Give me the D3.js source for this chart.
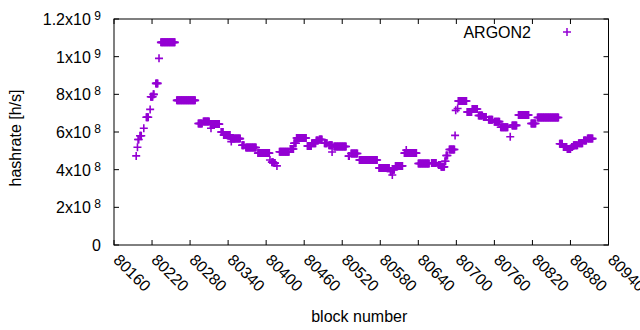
<!DOCTYPE html>
<html>
<head>
<meta charset="utf-8">
<script src="https://cdn.jsdelivr.net/npm/d3@7"></script>
<style>
  body { margin: 0; background: #fff; }
  svg { display: block; font-family: "Liberation Sans", Arial, sans-serif; }
  .frame { fill: none; stroke: #000; stroke-width: 1; }
  .tick { stroke: #000; stroke-width: 1; }
  text { fill: #000; font-size: 16px; }
</style>
</head>
<body>
<script>
// hashrate runs: first block, last block, value [h/s]
var runStart = [80195, 80197, 80198, 80201, 80207, 80211, 80217, 80218, 80222, 80226,
                80231, 80234, 80259, 80293, 80301, 80313, 80312, 80329, 80333, 80345,
                80344, 80362, 80368, 80387, 80406, 80409, 80413, 80417, 80421, 80438,
                80444, 80448, 80465, 80472, 80479, 80484, 80492, 80499, 80504, 80507,
                80530, 80534, 80547, 80578, 80596, 80599, 80600, 80604, 80618, 80621,
                80640, 80661, 80672, 80676, 80682, 80684, 80689, 80698, 80699, 80702,
                80703, 80717, 80725, 80735, 80743, 80751, 80760, 80770, 80785, 80788,
                80798, 80818, 80828, 80863, 80869, 80875, 80882, 80885, 80893, 80901,
                80907];
var runEnd   = [80195, 80197, 80199, 80203, 80207, 80214, 80217, 80221, 80223, 80229,
                80231, 80256, 80288, 80299, 80310, 80313, 80326, 80332, 80343, 80345,
                80359, 80365, 80384, 80405, 80406, 80411, 80414, 80417, 80436, 80443,
                80447, 80463, 80471, 80478, 80482, 80488, 80496, 80504, 80504, 80526,
                80531, 80544, 80575, 80594, 80597, 80599, 80602, 80615, 80637, 80621,
                80657, 80668, 80675, 80681, 80683, 80686, 80697, 80698, 80699, 80702,
                80716, 80724, 80733, 80741, 80747, 80757, 80768, 80781, 80785, 80795,
                80814, 80825, 80861, 80867, 80874, 80880, 80883, 80891, 80899, 80905,
                80915];
var runValue = [4.73e8, 5.19e8, 5.6e8, 5.8e8, 6.2e8, 6.78e8, 7.2e8, 7.87e8, 8.0e8, 8.58e8,
                9.91e8, 1.076e9, 7.68e8, 6.45e8, 6.56e8, 6.2e8, 6.42e8, 6.0e8, 5.84e8, 5.49e8,
                5.65e8, 5.3e8, 5.18e8, 4.88e8, 4.51e8, 4.4e8, 4.35e8, 4.2e8, 4.95e8, 5.1e8,
                5.4e8, 5.68e8, 5.26e8, 5.4e8, 5.55e8, 5.6e8, 5.4e8, 5.3e8, 4.94e8, 5.23e8,
                4.72e8, 4.86e8, 4.51e8, 4.09e8, 3.9e8, 3.72e8, 4.0e8, 4.2e8, 4.88e8, 5.04e8,
                4.33e8, 4.35e8, 4.25e8, 4.15e8, 4.45e8, 4.75e8, 5.07e8, 5.82e8, 7.15e8, 7.25e8,
                7.65e8, 7.06e8, 7.22e8, 6.88e8, 6.8e8, 6.65e8, 6.55e8, 6.25e8, 5.75e8, 6.35e8,
                6.9e8, 6.45e8, 6.77e8, 5.38e8, 5.2e8, 5.1e8, 5.2e8, 5.3e8, 5.4e8, 5.55e8,
                5.65e8];

var xTicks = [80160, 80220, 80280, 80340, 80400, 80460, 80520, 80580, 80640, 80700, 80760, 80820, 80880, 80940];
var yTicks = [0, 2e8, 4e8, 6e8, 8e8, 1e9, 1.2e9];
var yTickBase = ["0", "2x10", "4x10", "6x10", "8x10", "1x10", "1.2x10"];
var yTickExp  = ["", "8", "8", "8", "8", "9", "9"];
var seriesName = "ARGON2";

window.onload = drawChart;

function drawChart(){
    var width = 640, height = 330;
    var mLeft = 114, mRight = 608.5, mTop = 19, mBottom = 245;
    var color = "#9400d3";

    // one point per block, expanded from the runs
    var points = [];
    runStart.forEach(function(s, i){
        for (var b = s; b <= runEnd[i]; b++) points.push({block: b, value: runValue[i]});
    });

    var svg = d3.select("body").append("svg")
        .attr("width", width)
        .attr("height", height);

    var x = d3.scaleLinear().domain([80160, 80940]).range([mLeft, mRight]);
    var y = d3.scaleLinear().domain([0, 1.2e9]).range([mBottom, mTop]);

    var tl = 5;
    // ticks, mirrored on all four sides
    var g = svg.append("g");
    xTicks.forEach(function(t){
        g.append("line").attr("class", "tick").attr("x1", x(t)).attr("x2", x(t)).attr("y1", mBottom).attr("y2", mBottom - tl);
        g.append("line").attr("class", "tick").attr("x1", x(t)).attr("x2", x(t)).attr("y1", mTop).attr("y2", mTop + tl);
    });
    yTicks.forEach(function(t){
        g.append("line").attr("class", "tick").attr("x1", mLeft).attr("x2", mLeft + tl).attr("y1", y(t)).attr("y2", y(t));
        g.append("line").attr("class", "tick").attr("x1", mRight).attr("x2", mRight - tl).attr("y1", y(t)).attr("y2", y(t));
    });

    // y tick labels like 8x10^8
    yTicks.forEach(function(t, i){
        var txt = svg.append("text")
            .attr("x", 101)
            .attr("y", y(t) + 6)
            .attr("text-anchor", "end");
        txt.append("tspan").text(yTickBase[i]);
        if (yTickExp[i]) {
            txt.append("tspan").attr("dx", 3.5).attr("dy", -5).style("font-size", "12px").text(yTickExp[i]);
        }
    });

    // rotated x tick labels
    xTicks.forEach(function(t){
        svg.append("text")
            .attr("transform", "translate(" + (x(t) - 1.5) + ",261) rotate(45)")
            .attr("text-anchor", "start")
            .text(t);
    });

    // points
    svg.append("g").selectAll("path")
        .data(points)
        .enter()
        .append("path")
        .attr("d", "M-4,0H4M0,-4V4")
        .attr("transform", function(d){ return "translate(" + x(d.block) + "," + y(d.value) + ")"; })
        .attr("stroke", color)
        .attr("stroke-width", 1.6)
        .attr("fill", "none");

    // frame
    svg.append("rect").attr("class", "frame")
        .attr("x", mLeft).attr("y", mTop)
        .attr("width", mRight - mLeft).attr("height", mBottom - mTop);

    // axis titles
    svg.append("text")
        .attr("x", (mLeft + mRight) / 2 - 2)
        .attr("y", 322)
        .attr("text-anchor", "middle")
        .text("block number");
    svg.append("text")
        .attr("transform", "translate(21,138) rotate(-90)")
        .attr("text-anchor", "middle")
        .text("hashrate [h/s]");

    // legend
    svg.append("text")
        .attr("x", 531)
        .attr("y", 37.5)
        .attr("text-anchor", "end")
        .text(seriesName);
    svg.append("path")
        .attr("d", "M-4,0H4M0,-4V4")
        .attr("transform", "translate(567,32)")
        .attr("stroke", color)
        .attr("stroke-width", 1.5)
        .attr("fill", "none");
}
</script>
</body>
</html>
